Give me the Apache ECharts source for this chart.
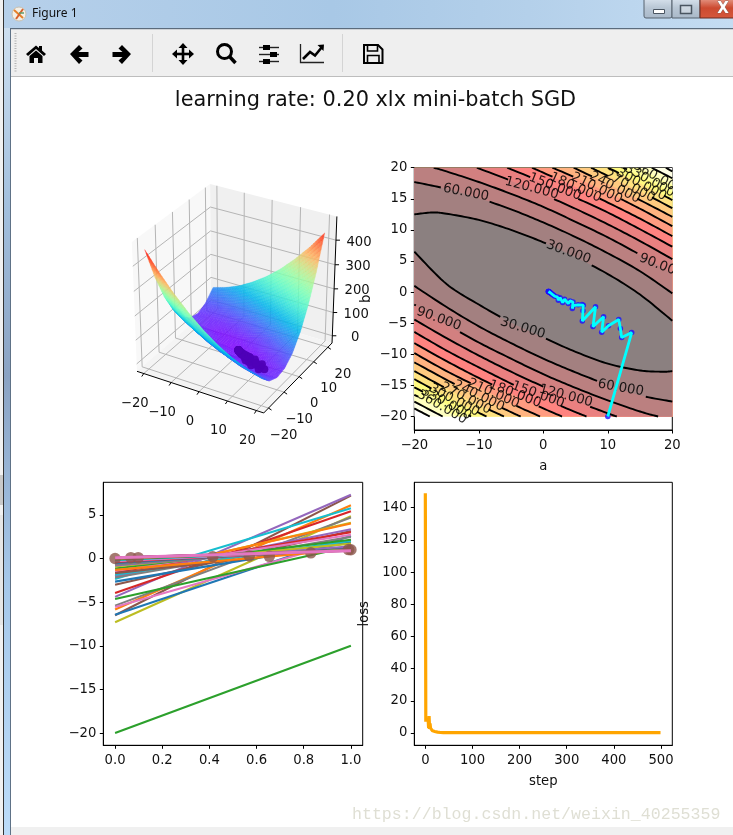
<!DOCTYPE html>
<html><head><meta charset="utf-8">
<style>html,body{margin:0;padding:0;background:#fff}#c{width:733px;height:835px}</style>
<script src="https://cdn.jsdelivr.net/npm/echarts@6/dist/echarts.min.js"></script>
</head><body><div id="c"></div>
<script>
// ---------- data ----------
const figureTitle = 'learning rate: 0.20 xlx mini-batch SGD';
const watermark = 'https://blog.csdn.net/weixin_40255359';

// 3D surface: loss height over a (rows) and b (columns)
const surfaceA = [-20,-15,-10,-5,0,5,10,15,20];
const surfaceB = [-20,-15,-10,-5,0,5,10,15,20];
const surfaceZ = [
 [457,322,213,129,69,35,25,41,81],
 [382,259,161,88,40,17,19,46,98],
 [315,203,117,55,19,7,20,59,122],
 [256,156,81,30,5,5,30,80,155],
 [205,116,53,14,0,11,48,109,195],
 [162,85,32,5,3,25,73,146,243],
 [127,61,20,4,13,48,107,191,300],
 [100,46,16,12,32,78,148,244,364],
 [81,38,20,27,59,116,198,305,437]
];
const axis3dTicks = [-20,-10,0,10,20];
const zTicks = [0,100,200,300,400];

// Contours: level and the two arcs [a,b]
const contourLevels = [30,60,90,120,150,180,210,240,270,300,330,360,390,420];
const contourUpper = [
 [[-20,12.5],[-17.2,12.8],[-15,12.6],[-10,11.6],[-5,10],[0,8],[5,5.6],[10,2.9],[15,-.4],[20,-4.6]],
 [[-20,17.7],[-15,16.6],[-10,15.1],[-5,13.3],[0,11.2],[5,8.85],[10,6.25],[15,3.35],[20,-.2]],
 [[-17,20],[-15,19.4],[-10,17.7],[-5,15.8],[0,13.7],[5,11.3],[10,8.8],[15,6],[20,3]],
 [[-10.3,20],[-5,17.9],[0,15.7],[5,13.4],[10,10.9],[15,8.2],[20,5.3]],
 [[-5.6,20],[0,17.6],[5,15.2],[10,12.8],[15,10.1],[20,7.3]],
 [[-1.75,20],[0,19.2],[5,16.9],[10,14.4],[15,11.8],[20,9]],
 [[1.4,20],[5,18.4],[10,16],[15,13.4],[20,10.6]],
 [[4.7,20],[10,17.4],[15,14.8],[20,12.1]],
 [[7.4,20],[10,18.7],[15,16.2],[20,13.5]],
 [[10,20],[15,17.5],[20,14.8]],
 [[12.4,20],[15,18.7],[20,16]],
 [[14.7,20],[17.5,18.5],[20,17.2]],
 [[16.8,20],[20,18.3]],
 [[19,20],[20,19.4]]
];
const contourLower = [
 [[-20,6.5],[-15,1.3],[-10,-2],[-5,-4.9],[0,-7.3],[5,-9.6],[10,-11.5],[15,-12.6],[18.6,-12.8],[20,-12.7]],
 [[-20,1],[-15,-2.4],[-10,-5.5],[-5,-8.2],[0,-10.7],[5,-12.9],[10,-14.9],[15,-16.6],[20,-17.6]],
 [[-20,-2],[-15,-5.2],[-10,-8.1],[-5,-10.7],[0,-13.2],[5,-15.4],[10,-17.4],[15,-19.2],[17.8,-20]],
 [[-20,-4.4],[-15,-7.4],[-10,-10.2],[-5,-12.8],[0,-15.2],[5,-17.5],[10,-19.5],[11.4,-20]],
 [[-20,-6.4],[-15,-9.4],[-10,-12.1],[-5,-14.7],[0,-17.1],[5,-19.3],[6.7,-20]],
 [[-20,-8.2],[-15,-11.1],[-10,-13.8],[-5,-16.3],[0,-18.7],[2.9,-20]],
 [[-20,-9.8],[-15,-12.7],[-10,-15.3],[-5,-17.9],[-.5,-20]],
 [[-20,-11.3],[-15,-14.1],[-10,-16.8],[-5,-19.3],[-3.5,-20]],
 [[-20,-12.7],[-15,-15.5],[-10,-18.1],[-6.1,-20]],
 [[-20,-14],[-15,-16.8],[-10,-19.4],[-8.8,-20]],
 [[-20,-15.3],[-15,-18],[-11.2,-20]],
 [[-20,-16.5],[-15,-19.2],[-13.2,-20]],
 [[-20,-17.6],[-15.6,-20]],
 [[-20,-18.7],[-17.6,-20]]
];
const contourLabels = [
 [60,-12,16,11],[120,-1.8,16.7,15],[150,1.8,16.9,21],[180,5,16.8,24],[210,8.3,16.7,26],[240,11.1,16.8,27],
 [270,13.4,17,28],[300,15.2,17.3,28],[330,16.5,17.9,29],[360,17.8,18.3,30],[30,3.9,6.4,20],[90,18.3,4.2,21],
 [90,-16.2,-4.3,20],[30,-3.2,-5.8,17],[60,12,-15.4,10],[120,3.5,-16.7,15],[150,-.8,-16.5,20],[180,-4.4,-16.4,21],
 [210,-7.7,-16.3,24],[240,-10,-16.7,26],[270,-12,-17.1,27],[300,-13.8,-17.4,28],[330,-15,-17.9,29],[360,-15.7,-18.5,30]
];
const contourXTicks = [-20,-10,0,10,20];
const contourYTicks = [-20,-15,-10,-5,0,5,10,15,20];

// Descent history
const historyA = [10,13.7,12.15,11.95,11.7,10.1,9.05,9.35,7.7,8.1,6.05,6.15,6.2,6,5.4,4.65,4.5,4.6,4.14,3.88,3.3,3,2.6,2.33,2.2,1.8,1.6,1.45,1.3,1.2,1.1,1,.95,.9,.85,.82,.8,.8,.8];
const historyB = [-20,-6.5,-7.3,-5.85,-4.4,-5.4,-6.45,-3.95,-5.55,-2.35,-4.65,-3,-2.1,-2,-2.05,-2.17,-2.65,-1.6,-1.42,-1.85,-1.15,-1.68,-.9,-1.3,-.8,-.67,-.5,-.4,-.3,-.2,-.1,-.05,0,.05,.07,.09,.1,.1,.1];
const historyLoss = [149,8,7.5,9,8.5,7,8,3,10.5,2.5,6,3,2.5,2,3,1.5,1.8,1.2,1,1.5,1,.8,1,.7,.6,.8,.6,.5,.5,.45,.4,.4,.35,.35,.35,.3,.3,.3,.3];
const laterSteps = [50,100,200,300,400,499];
const laterLoss = [.3,.3,.3,.3,.3,.3];

// Fit panel samples
const sampleX = [0,.067,.098,.414,.569,.654,.83,1,.99];
const sampleY = [0,.1,.1,.2,.3,.25,.65,1,1.02];
const fitXTicks = [0,.2,.4,.6,.8,1];
const fitYTicks = [-20,-15,-10,-5,0,5];
const lossXTicks = [0,100,200,300,400,500];
const lossYTicks = [0,20,40,60,80,100,120,140];
const tab10 = ['#1f77b4','#ff7f0e','#2ca02c','#d62728','#9467bd','#8c564b','#e377c2','#7f7f7f','#bcbd22','#17becf'];

// ---------- helpers ----------
const FONT = '"DejaVu Sans"';
const TICK = 13.2;
const fmt = v => String(v).replace('-', '\u2212');
// mplot3d view: elev 30, azim -60
const R3X = 22.5, R3Y = 23, Z0 = -31.6, Z1 = 494.7;
function proj(a, b, z) {
  const x = a / (2 * R3X), y = b / (2 * R3Y), c = (z - Z0) / (Z1 - Z0) - .5;
  const u = .866 * x + .5 * y, v = -.25 * x + .433 * y + .866 * c, d = .433 * x - .75 * y + .5 * c;
  const D = 10 - d;
  return [u / D * 10, v / D * 10, D];
}
function rainbow(t) {
  const r = Math.min(1, Math.abs(2 * t - .5)), g = Math.sin(Math.PI * t), b = Math.cos(Math.PI * t / 2);
  return `rgb(${Math.round(r * 255)},${Math.round(g * 255)},${Math.round(b * 255)})`;
}
function hotOnWhite(t) {
  const r = Math.min(1, .0416 + t / .365 * .958), g = Math.max(0, Math.min(1, (t - .365) / .381)), b = Math.max(0, (t - .746) / .254);
  const m = c => Math.round((c + 1) / 2 * 255);
  return `rgb(${m(r)},${m(g)},${m(b)})`;
}
const zMax = Math.max(...surfaceZ.flat());
const SUB = 7;
const surfaceCells = [];
for (let i = 0; i < surfaceA.length - 1; i++) for (let j = 0; j < surfaceB.length - 1; j++) {
  const a0 = surfaceA[i], a1 = surfaceA[i + 1], b0 = surfaceB[j], b1 = surfaceB[j + 1];
  const zz = (s, t) => (1 - s) * (1 - t) * surfaceZ[i][j] + s * (1 - t) * surfaceZ[i + 1][j] + (1 - s) * t * surfaceZ[i][j + 1] + s * t * surfaceZ[i + 1][j + 1];
  for (let m = 0; m < SUB; m++) for (let n = 0; n < SUB; n++) {
    const cs = [[m, n], [m + 1, n], [m + 1, n + 1], [m, n + 1]].map(([p, q]) => {
      const s = p / SUB, t = q / SUB;
      return proj(a0 + (a1 - a0) * s, b0 + (b1 - b0) * t, zz(s, t));
    });
    const zc = zz((m + .5) / SUB, (n + .5) / SUB);
    surfaceCells.push({ value: [cs[0][0], cs[0][1], cs[1][0], cs[1][1], cs[2][0], cs[2][1], cs[3][0], cs[3][1], zc, (cs[0][2] + cs[2][2]) / 2] });
  }
}
surfaceCells.sort((p, q) => q.value[9] - p.value[9]);

function smoothArc(pts) {
  const out = [];
  for (let i = 0; i < pts.length - 1; i++) {
    const p0 = pts[Math.max(0, i - 1)], p1 = pts[i], p2 = pts[i + 1], p3 = pts[Math.min(pts.length - 1, i + 2)];
    for (let k = 0; k < 12; k++) {
      const t = k / 12, t2 = t * t, t3 = t2 * t;
      out.push([0, 1].map(d => .5 * (2 * p1[d] + (p2[d] - p0[d]) * t + (2 * p0[d] - 5 * p1[d] + 4 * p2[d] - p3[d]) * t2 + (3 * p1[d] - p0[d] - 3 * p2[d] + p3[d]) * t3)));
    }
  }
  out.push(pts[pts.length - 1]);
  return out;
}
const nBands = contourLevels.length;

function axisCommon(gridIndex, ticks, margin, formatter, extra) {
  return Object.assign({
    type: 'value', gridIndex, splitLine: { show: false }, scale: false,
    axisLine: { show: true, onZero: false, lineStyle: { color: '#000', width: 1 } },
    axisTick: { show: true, length: 3.5, lineStyle: { color: '#000', width: 1 }, customValues: ticks },
    axisLabel: { color: '#111', fontFamily: FONT, fontSize: TICK, margin, customValues: ticks, hideOverlap: false, formatter },
    nameTextStyle: { color: '#111', fontFamily: FONT, fontSize: TICK },
    nameLocation: 'middle'
  }, extra);
}

// ---------- window chrome ----------
const sil = { silent: true };
const K = '#000';
const chrome = [
  { type: 'rect', shape: { x: 0, y: 0, width: 733, height: 835 }, style: { fill: '#fff' }, z: -10, ...sil },
  { type: 'rect', shape: { x: 0, y: 0, width: 3, height: 835 }, style: { fill: '#f1f1f1' }, z: -9, ...sil },
  { type: 'rect', shape: { x: 0, y: 475, width: 3, height: 30 }, style: { fill: '#c9c9c9' }, z: -9, ...sil },
  { type: 'rect', shape: { x: 0, y: 515, width: 3, height: 110 }, style: { fill: '#e6e6e6' }, z: -9, ...sil },
  { type: 'rect', shape: { x: 3, y: 0, width: 1, height: 835 }, style: { fill: '#333' }, z: -9, ...sil },
  { type: 'rect', shape: { x: 4, y: 0, width: 6, height: 835 }, style: { fill: { type: 'linear', x: 0, y: 0, x2: 0, y2: 1, colorStops: [{ offset: 0, color: '#d4e4f3' }, { offset: .25, color: '#a2bfdd' }, { offset: .45, color: '#8ba3c3' }, { offset: .7, color: '#a6c8ea' }, { offset: 1, color: '#bcdcf9' }] } }, z: -9, ...sil },
  { type: 'rect', shape: { x: 10, y: 28, width: 1, height: 807 }, style: { fill: '#5e7287' }, z: -9, ...sil },
  { type: 'rect', shape: { x: 4, y: 0, width: 729, height: 28 }, style: { fill: { type: 'linear', x: 0, y: 0, x2: 1, y2: .15, colorStops: [{ offset: 0, color: '#b6d0ea' }, { offset: .45, color: '#a8c8e6' }, { offset: .72, color: '#b4d0ea' }, { offset: 1, color: '#c4dcf2' }] } }, z: -8, ...sil },
  { type: 'rect', shape: { x: 10, y: 28, width: 723, height: 1.5 }, style: { fill: '#5b6b7c' }, z: -7, ...sil },
  { type: 'rect', shape: { x: 11, y: 29.5, width: 722, height: 46.5 }, style: { fill: '#efefef' }, z: -7, ...sil },
  { type: 'rect', shape: { x: 11, y: 76, width: 722, height: 1 }, style: { fill: '#bdbdbd' }, z: -7, ...sil },
  { type: 'rect', shape: { x: 11, y: 827, width: 722, height: 8 }, style: { fill: '#f0f0f0' }, z: -7, ...sil },
  // window icon
  { type: 'circle', shape: { cx: 19, cy: 14, r: 7 }, style: { fill: '#f4efe6', stroke: '#c8c0b0' }, ...sil },
  { type: 'line', shape: { x1: 14, y1: 10, x2: 23, y2: 18 }, style: { stroke: '#e5812a', lineWidth: 2 }, ...sil },
  { type: 'line', shape: { x1: 23, y1: 9, x2: 16, y2: 19 }, style: { stroke: '#d9622b', lineWidth: 2 }, ...sil },
  { type: 'line', shape: { x1: 19, y1: 13, x2: 24, y2: 13 }, style: { stroke: '#5f9e6e', lineWidth: 1.5 }, ...sil },
  { type: 'text', style: { x: 32, y: 14, text: 'Figure 1', fill: '#111', font: '12px "Noto Sans"', verticalAlign: 'middle' }, ...sil },
  // window buttons
  { type: 'rect', shape: { x: 644, y: -2, width: 28, height: 20, r: 2 }, style: { fill: { type: 'linear', x: 0, y: 0, x2: 0, y2: 1, colorStops: [{ offset: 0, color: '#dbe5ef' }, { offset: .5, color: '#b8c6d4' }, { offset: 1, color: '#a9b8c8' }] }, stroke: '#56626e' }, ...sil },
  { type: 'rect', shape: { x: 672, y: -2, width: 28, height: 20 }, style: { fill: { type: 'linear', x: 0, y: 0, x2: 0, y2: 1, colorStops: [{ offset: 0, color: '#dbe5ef' }, { offset: .5, color: '#b8c6d4' }, { offset: 1, color: '#a9b8c8' }] }, stroke: '#56626e' }, ...sil },
  { type: 'rect', shape: { x: 700, y: -2, width: 34, height: 20 }, style: { fill: { type: 'linear', x: 0, y: 0, x2: 0, y2: 1, colorStops: [{ offset: 0, color: '#e8a08f' }, { offset: .5, color: '#cc4a30' }, { offset: 1, color: '#d5583c' }] }, stroke: '#6b2a20' }, ...sil },
  { type: 'rect', shape: { x: 653.5, y: 9.5, width: 11, height: 4 }, style: { fill: '#fff', stroke: '#4a5561' }, ...sil },
  { type: 'rect', shape: { x: 680.5, y: 5.5, width: 11, height: 8 }, style: { fill: 'rgba(255,255,255,.3)', stroke: '#4a5561', lineWidth: 1.5 }, ...sil },
  { type: 'text', style: { x: 723, y: 9, text: 'X', align: 'center', verticalAlign: 'middle', fill: '#fff', stroke: '#6b5a55', lineWidth: .6, font: 'bold 15px "DejaVu Sans"' }, ...sil },
  // toolbar dividers
  { type: 'line', shape: { x1: 15.5, y1: 33, x2: 15.5, y2: 72 }, style: { stroke: '#b4b4b4', lineWidth: 2, lineDash: [1, 1.5] }, ...sil },
  { type: 'rect', shape: { x: 152, y: 34, width: 1, height: 38 }, style: { fill: '#d4d4d4' }, ...sil },
  { type: 'rect', shape: { x: 342, y: 34, width: 1, height: 38 }, style: { fill: '#d4d4d4' }, ...sil },
  // home
  { type: 'polygon', shape: { points: [[26, 54], [36, 45.5], [39, 48], [39, 46], [42, 46], [42, 50.5], [46, 54], [44, 56], [36, 49], [28, 56]] }, style: { fill: K }, ...sil },
  { type: 'polygon', shape: { points: [[29.5, 56], [36, 50.5], [42.5, 56], [42.5, 63], [38, 63], [38, 58], [34, 58], [34, 63], [29.5, 63]] }, style: { fill: K }, ...sil },
  // arrows
  { type: 'polygon', shape: { points: [[70, 54], [79, 45], [82.5, 48.5], [78.5, 52], [88.5, 52], [88.5, 57], [78.5, 57], [82.5, 60.5], [79, 64]] }, style: { fill: K }, ...sil },
  { type: 'polygon', shape: { points: [[131, 54], [122, 45], [118.5, 48.5], [122.5, 52], [112.5, 52], [112.5, 57], [122.5, 57], [118.5, 60.5], [122, 64]] }, style: { fill: K }, ...sil },
  // move
  { type: 'line', shape: { x1: 175, y1: 54, x2: 191, y2: 54 }, style: { stroke: K, lineWidth: 2.6 }, ...sil },
  { type: 'line', shape: { x1: 183, y1: 46, x2: 183, y2: 62 }, style: { stroke: K, lineWidth: 2.6 }, ...sil },
  { type: 'polygon', shape: { points: [[172, 54], [177, 49.5], [177, 58.5]] }, style: { fill: K }, ...sil },
  { type: 'polygon', shape: { points: [[194, 54], [189, 49.5], [189, 58.5]] }, style: { fill: K }, ...sil },
  { type: 'polygon', shape: { points: [[183, 43], [178.5, 48], [187.5, 48]] }, style: { fill: K }, ...sil },
  { type: 'polygon', shape: { points: [[183, 65], [178.5, 60], [187.5, 60]] }, style: { fill: K }, ...sil },
  // zoom
  { type: 'circle', shape: { cx: 224.5, cy: 51.5, r: 7 }, style: { fill: 'none', stroke: K, lineWidth: 3 }, ...sil },
  { type: 'line', shape: { x1: 229.5, y1: 56.5, x2: 235.5, y2: 63 }, style: { stroke: K, lineWidth: 3.5 }, ...sil },
  // sliders
  { type: 'line', shape: { x1: 259, y1: 47.5, x2: 279, y2: 47.5 }, style: { stroke: '#222', lineWidth: 1.4 }, ...sil },
  { type: 'line', shape: { x1: 259, y1: 54.5, x2: 279, y2: 54.5 }, style: { stroke: '#222', lineWidth: 1.4 }, ...sil },
  { type: 'line', shape: { x1: 259, y1: 61.5, x2: 279, y2: 61.5 }, style: { stroke: '#222', lineWidth: 1.4 }, ...sil },
  { type: 'rect', shape: { x: 263, y: 45, width: 7, height: 5 }, style: { fill: K }, ...sil },
  { type: 'rect', shape: { x: 270, y: 52, width: 7, height: 5 }, style: { fill: K }, ...sil },
  { type: 'rect', shape: { x: 263, y: 59, width: 7, height: 5 }, style: { fill: K }, ...sil },
  // chart icon
  { type: 'polyline', shape: { points: [[300.5, 44], [300.5, 62.5], [324, 62.5]] }, style: { fill: 'none', stroke: '#222', lineWidth: 1.3 }, ...sil },
  { type: 'polyline', shape: { points: [[303, 59], [310, 52], [315, 55.5], [322, 47]] }, style: { fill: 'none', stroke: K, lineWidth: 2.6 }, ...sil },
  { type: 'polygon', shape: { points: [[317.5, 45], [324, 44.5], [323.5, 51]] }, style: { fill: K }, ...sil },
  // save
  { type: 'polygon', shape: { points: [[364, 45], [378, 45], [382.5, 49.5], [382.5, 63], [364, 63]] }, style: { fill: 'none', stroke: K, lineWidth: 2 }, ...sil },
  { type: 'rect', shape: { x: 367.5, y: 45, width: 10, height: 6 }, style: { fill: 'none', stroke: K, lineWidth: 1.6 }, ...sil },
  { type: 'rect', shape: { x: 367.5, y: 55.5, width: 11.5, height: 7.5 }, style: { fill: 'none', stroke: K, lineWidth: 1.6 }, ...sil },
  // figure title + watermark
  { type: 'text', z: 20, style: { x: 375.5, y: 101, text: figureTitle, align: 'center', verticalAlign: 'middle', fill: '#111', font: '20.85px "DejaVu Sans"' }, ...sil },
  { type: 'text', z: 20, style: { x: 352, y: 815, text: watermark, verticalAlign: 'middle', fill: '#dfdfd4', font: '16.6px "Liberation Mono"' }, ...sil }
];

// ---------- series ----------
const series = [];

// 3D frame
series.push({
  type: 'custom', coordinateSystem: 'cartesian2d', xAxisIndex: 0, yAxisIndex: 0, silent: true, z: 1,
  data: [[0, 0]],
  renderItem(params, api) {
    const P = (a, b, z) => { const p = proj(a, b, z); return api.coord([p[0], p[1]]); };
    const kids = [];
    const pane = (pts, fill) => kids.push({ type: 'polygon', shape: { points: pts }, style: { fill } });
    const seg = (p, q, stroke, lineWidth) => kids.push({ type: 'line', shape: { x1: p[0], y1: p[1], x2: q[0], y2: q[1] }, style: { stroke, lineWidth } });
    const X = R3X, Y = R3Y;
    pane([P(-X, -Y, Z0), P(-X, Y, Z0), P(-X, Y, Z1), P(-X, -Y, Z1)], '#f8f8f8');
    pane([P(-X, Y, Z0), P(X, Y, Z0), P(X, Y, Z1), P(-X, Y, Z1)], '#f0f0f0');
    pane([P(-X, -Y, Z0), P(X, -Y, Z0), P(X, Y, Z0), P(-X, Y, Z0)], '#f4f4f4');
    const G = '#b5b5b5';
    axis3dTicks.forEach(t => {
      seg(P(t, -Y, Z0), P(t, Y, Z0), G, 1); seg(P(t, Y, Z0), P(t, Y, Z1), G, 1);
      seg(P(-X, t, Z0), P(X, t, Z0), G, 1); seg(P(-X, t, Z0), P(-X, t, Z1), G, 1);
    });
    zTicks.forEach(t => { seg(P(-X, -Y, t), P(-X, Y, t), G, 1); seg(P(-X, Y, t), P(X, Y, t), G, 1); });
    seg(P(-X, -Y, Z0), P(X, -Y, Z0), K, 1);
    seg(P(X, -Y, Z0), P(X, Y, Z0), K, 1);
    seg(P(X, Y, Z0), P(X, Y, Z1), K, 1);
    const label = (pt, dx, dy, text) => kids.push({ type: 'text', style: { x: pt[0] + dx, y: pt[1] + dy, text, align: 'center', verticalAlign: 'middle', fill: '#111', font: TICK + 'px ' + FONT } });
    axis3dTicks.forEach(t => {
      const a = P(t, -Y, Z0); seg(a, [a[0] - 2, a[1] + 3], K, 1); label(a, -9, 30, fmt(t));
      const b = P(X, t, Z0); seg(b, [b[0] + 3, b[1] + 2], K, 1); label(b, 15, 27, fmt(t));
    });
    zTicks.forEach(t => {
      const c = P(X, Y, t); seg(c, [c[0] + 4, c[1]], K, 1); label(c, 23, 2, fmt(t));
    });
    return { type: 'group', children: kids };
  }
});
// 3D surface
series.push({
  type: 'custom', coordinateSystem: 'cartesian2d', xAxisIndex: 0, yAxisIndex: 0, silent: true, z: 2, progressive: 0,
  encode: { x: 0, y: 1 }, data: surfaceCells,
  renderItem(params, api) {
    const pts = [0, 2, 4, 6].map(k => api.coord([api.value(k), api.value(k + 1)]));
    const col = rainbow(api.value(8) / zMax);
    return { type: 'polygon', shape: { points: pts }, style: { fill: col, stroke: col, lineWidth: .35, opacity: .82 } };
  }
});
// 3D descent points
series.push({
  type: 'scatter', xAxisIndex: 0, yAxisIndex: 0, silent: true, z: 3, symbolSize: 8,
  itemStyle: { color: '#4f00b8', opacity: .95 },
  data: historyA.map((a, i) => { const p = proj(a, historyB[i], historyLoss[i]); return [p[0], p[1]]; }).slice(1)
});

// Contour filled bands (painted from the outside in)
series.push({
  type: 'custom', coordinateSystem: 'cartesian2d', xAxisIndex: 1, yAxisIndex: 1, silent: true, z: 2, clip: true,
  encode: { x: 0, y: 1 }, data: [[0, 0]],
  renderItem(params, api) {
    const c = p => api.coord(p);
    const kids = [{ type: 'polygon', shape: { points: [[-20, -20], [20, -20], [20, 20], [-20, 20]].map(c) }, style: { fill: hotOnWhite(1) } }];
    for (let i = nBands - 1; i >= 0; i--) {
      const low = smoothArc(contourLower[i]), up = smoothArc(contourUpper[i]);
      const pts = low.slice();
      if (low[low.length - 1][1] === -20) pts.push([20, -20]);
      pts.push(...up.slice().reverse());
      if (up[0][1] === 20) pts.push([-20, 20]);
      kids.push({ type: 'polygon', shape: { points: pts.map(c) }, style: { fill: hotOnWhite((i + .25) / nBands) } });
    }
    return { type: 'group', children: kids };
  }
});
// Contour lines with gaps at labels, and their labels
series.push({
  type: 'custom', coordinateSystem: 'cartesian2d', xAxisIndex: 1, yAxisIndex: 1, silent: true, z: 3, clip: true,
  encode: { x: 0, y: 1 }, data: [[0, 0]],
  renderItem(params, api) {
    const kids = [];
    contourLevels.forEach((lev, i) => {
      const labs = contourLabels.filter(l => l[0] === lev).map(l => ({ p: api.coord([l[1], l[2]]), r: l[3] * Math.PI / 180 }));
      [contourUpper[i], contourLower[i]].forEach(arc => {
        let run = [];
        const flush = () => { if (run.length > 1) kids.push({ type: 'polyline', shape: { points: run }, style: { fill: 'none', stroke: '#000', lineWidth: 1.9 } }); run = []; };
        smoothArc(arc).forEach(q => {
          const s = api.coord(q);
          const hit = labs.some(l => {
            const dx = s[0] - l.p[0], dy = s[1] - l.p[1];
            return Math.abs(dx * Math.cos(l.r) + dy * Math.sin(l.r)) < 24 && Math.abs(-dx * Math.sin(l.r) + dy * Math.cos(l.r)) < 9;
          });
          if (hit) flush(); else run.push(s);
        });
        flush();
      });
    });
    contourLabels.forEach(l => {
      const p = api.coord([l[1], l[2]]);
      kids.push({ type: 'text', x: p[0], y: p[1], rotation: -l[3] * Math.PI / 180, style: { x: 0, y: 0, text: l[0].toFixed(3), align: 'center', verticalAlign: 'middle', fill: 'rgba(0,0,0,.85)', font: '13.3px ' + FONT } });
    });
    return { type: 'group', children: kids };
  }
});
const historyPath = historyA.map((a, i) => [a, historyB[i]]);
series.push({ type: 'scatter', xAxisIndex: 1, yAxisIndex: 1, silent: true, z: 4, symbolSize: 5.5, itemStyle: { color: '#1a10ff' }, data: historyPath });
series.push({ type: 'line', xAxisIndex: 1, yAxisIndex: 1, silent: true, z: 5, showSymbol: false, lineStyle: { color: '#00ffff', width: 2.8 }, data: historyPath });

// Fit lines
historyA.forEach((a, i) => {
  const last = i === historyA.length - 1;
  series.push({
    type: 'line', xAxisIndex: 2, yAxisIndex: 2, silent: true, showSymbol: false,
    z: last ? 6 : 4,
    lineStyle: { color: tab10[(2 + 3 * i) % 10], width: last ? 3 : 2.1 },
    data: [[0, historyB[i]], [1, a + historyB[i]]]
  });
});
series.push({
  type: 'scatter', xAxisIndex: 2, yAxisIndex: 2, silent: true, z: 5, symbolSize: 11.5,
  itemStyle: { color: '#8c564b' }, data: sampleX.map((x, i) => [x, sampleY[i]])
});

// Loss
const lossData = historyLoss.map((v, i) => [i, v]).concat(laterSteps.map((s, i) => [s, laterLoss[i]]));
series.push({ type: 'line', xAxisIndex: 3, yAxisIndex: 3, silent: true, showSymbol: false, lineStyle: { color: '#ffa500', width: 3.2, join: 'miter' }, data: lossData });

const option = {
  animation: false,
  backgroundColor: '#fff',
  graphic: { elements: chrome },
  grid: [
    { left: 100, top: 170, width: 280, height: 270, show: false },
    { left: 414.3, top: 167.7, width: 258, height: 262.3, show: true, backgroundColor: '#fff', borderColor: '#000', borderWidth: 1 },
    { left: 103.3, top: 482.3, width: 259.4, height: 263, show: true, backgroundColor: '#fff', borderColor: '#000', borderWidth: 1 },
    { left: 414.3, top: 482.3, width: 258, height: 263, show: true, backgroundColor: '#fff', borderColor: '#000', borderWidth: 1 }
  ],
  xAxis: [
    { type: 'value', gridIndex: 0, min: -.9296, max: .984, show: false },
    axisCommon(1, contourXTicks, 9, fmt, { min: -20, max: 20, name: 'a', nameGap: 30 }),
    axisCommon(2, fitXTicks, 9, v => v.toFixed(1), { min: -.05, max: 1.05 }),
    axisCommon(3, lossXTicks, 9, fmt, { min: -23.4, max: 524, name: 'step', nameGap: 30 })
  ],
  yAxis: [
    { type: 'value', gridIndex: 0, min: -.985, max: .844, show: false },
    axisCommon(1, contourYTicks, 7, fmt, { min: -22.17, max: 20, name: 'b', nameGap: 41 }),
    axisCommon(2, fitYTicks, 7, fmt, { min: -21.4, max: 8.73 }),
    axisCommon(3, lossYTicks, 7, fmt, { min: -7.6, max: 155.8, name: 'loss', nameGap: 43 })
  ],
  series
};
const chart = echarts.init(document.getElementById('c'), null, { renderer: 'canvas', width: 733, height: 835 });
chart.setOption(option);
</script></body></html>
